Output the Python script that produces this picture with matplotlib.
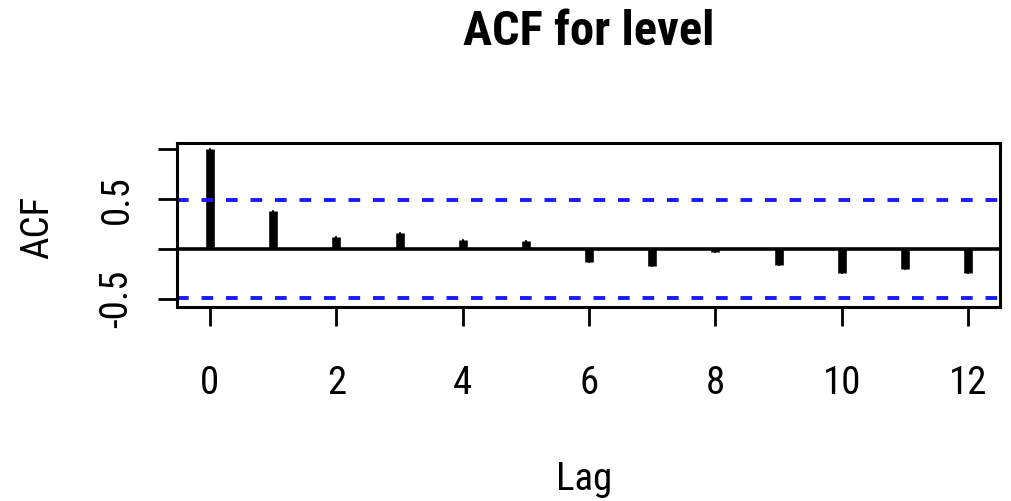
import matplotlib
matplotlib.use('Agg')
import matplotlib.pyplot as plt

# autocorrelations
lags = [0, 1, 2, 3, 4, 5, 6, 7, 8, 9, 10, 11, 12]
acf = [1.0, 0.38, 0.12, 0.16, 0.09, 0.08, -0.13, -0.17, -0.03, -0.16, -0.24, -0.20, -0.24]
ci = 0.49

plt.rcParams['font.family'] = ['DejaVu Sans Condensed', 'Roboto Condensed',
                               'Liberation Sans Narrow', 'Liberation Sans']

fig = plt.figure(figsize=(10.12, 5.01), dpi=100)
ax = fig.add_axes([0.175, 0.387, 0.813, 0.3276])

ax.vlines(lags, 0, acf, colors='black', linewidth=6.2, capstyle='butt')
ax.vlines(lags, 0, acf, colors='black', linewidth=1.5, capstyle='round')
ax.axhline(0, color='black', linewidth=2.6)
ax.axhline(ci, color='#1a1aff', linewidth=2.8, linestyle=(0, (3.0, 3.3)))
ax.axhline(-ci, color='#1a1aff', linewidth=2.8, linestyle=(0, (3.0, 3.3)))

ax.set_xlim(-0.52, 12.5)
ax.set_ylim(-0.583, 1.065)

ax.set_xticks([0, 2, 4, 6, 8, 10, 12])
ax.set_xticklabels(['0', '2', '4', '6', '8', '10', '12'], fontsize=28)
ax.set_yticks([-0.5, 0, 0.5, 1.0])
ax.set_yticklabels(['-0.5', '', '0.5', ''], fontsize=28, rotation=90, va='center')

ax.tick_params(axis='both', direction='out', length=14, width=2.0)
ax.tick_params(axis='x', pad=28)
ax.tick_params(axis='y', pad=16)
for s in ax.spines.values():
    s.set_linewidth(2.2)

fig.text(0.582, 0.910, 'ACF for level', ha='center', va='baseline',
         fontsize=35, fontweight='bold')
fig.text(0.577, (501 - 490) / 501, 'Lag', ha='center', va='baseline', fontsize=28)
fig.text(0.037, 0.547, 'ACF', ha='center', va='center', rotation=90, fontsize=28)

fig.savefig('out.png', dpi=100)
